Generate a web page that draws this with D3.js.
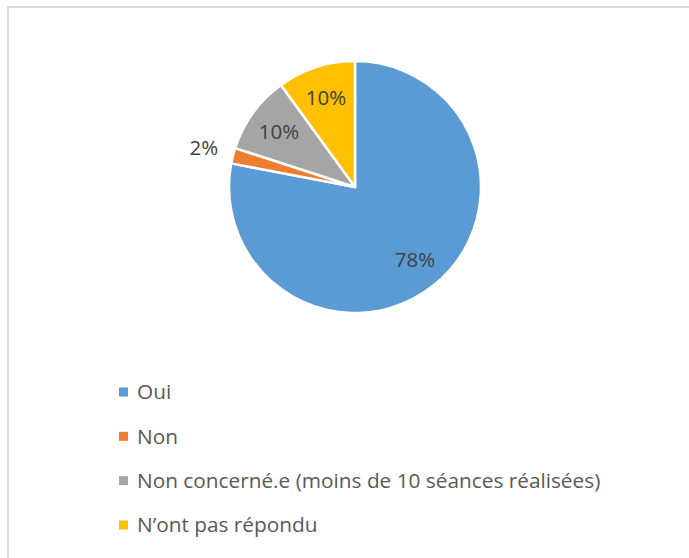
<!DOCTYPE html>
<html>
<head>
<meta charset="utf-8">
<script src="https://cdn.jsdelivr.net/npm/d3@7"></script>
<style>
  html, body { margin: 0; padding: 0; background: #fff; }
  svg { display: block; }
</style>
</head>
<body>
<svg id="chart" width="689" height="558"></svg>
<script>
// Survey answers and their shares (percent)
const categories = ["Oui", "Non", "Non concerné.e (moins de 10 séances réalisées)", "N’ont pas répondu"];
const values = [78, 2, 10, 10];
const colors = ["#5B9BD5", "#ED7D31", "#A5A5A5", "#FFC000"];

const svg = d3.select("#chart");
const W = 689, H = 558;
const font = "'Open Sans', 'Noto Sans', sans-serif";
const textColor = "#595959";

// Chart frame (light gray border)
svg.append("rect")
  .attr("x", 8).attr("y", 7)
  .attr("width", W + 10).attr("height", H + 10)
  .attr("fill", "#fff")
  .attr("stroke", "#D9D9D9")
  .attr("stroke-width", 2);

const cx = 355, cy = 187, R = 126;

const pie = d3.pie().sort(null).value(d => d.v);
const arcs = pie(values.map((v, i) => ({ v, i })));
const arc = d3.arc().innerRadius(0).outerRadius(R);
const inLabel = d3.arc().innerRadius(94).outerRadius(94);
const outLabel = d3.arc().innerRadius(156).outerRadius(156);

const g = svg.append("g").attr("transform", `translate(${cx},${cy})`);

g.selectAll("path.slice")
  .data(arcs)
  .join("path")
  .attr("class", "slice")
  .attr("d", arc)
  .attr("fill", d => colors[d.data.i])
  .attr("stroke", "#fff")
  .attr("stroke-width", 2.5)
  .attr("stroke-linejoin", "round");

// Percent labels: small slices are labelled outside the pie
g.selectAll("text.pct")
  .data(arcs)
  .join("text")
  .attr("class", "pct")
  .attr("transform", d => {
    const c = (d.data.v < 5 ? outLabel : inLabel).centroid(d);
    return `translate(${c[0]},${c[1]})`;
  })
  .attr("text-anchor", "middle")
  .attr("dy", "0.35em")
  .attr("font-family", font)
  .attr("font-size", 20.5)
  .attr("fill", "#404040")
  .text(d => d.data.v + "%");

// Legend
const legend = svg.append("g");
const rowY = d3.scaleLinear().domain([0, categories.length - 1]).range([392, 525]);
const rows = legend.selectAll("g")
  .data(categories)
  .join("g")
  .attr("transform", (d, i) => `translate(119,${rowY(i)})`);

rows.append("rect")
  .attr("x", 0).attr("y", -4.5)
  .attr("width", 9).attr("height", 9)
  .attr("fill", (d, i) => colors[i]);

rows.append("text")
  .attr("x", 18)
  .attr("dy", "0.35em")
  .attr("font-family", font)
  .attr("font-size", 20.8)
  .attr("fill", textColor)
  .text(d => d);
</script>
</body>
</html>
